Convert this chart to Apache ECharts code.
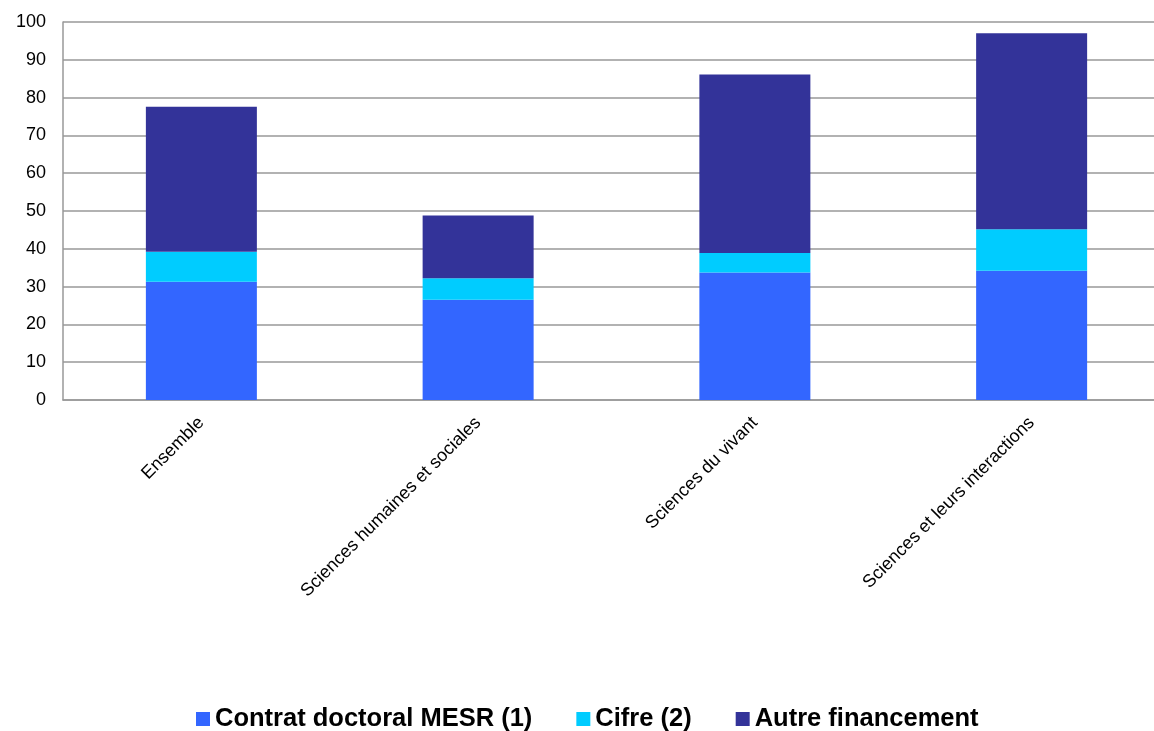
<!DOCTYPE html>
<html>
<head>
<meta charset="utf-8">
<script src="https://cdn.jsdelivr.net/npm/echarts@6/dist/echarts.min.js"></script>
<style>
html,body{margin:0;padding:0;background:#fff;overflow:hidden;width:1154px;height:731px;}
#chart{width:1170px;height:731px;}
</style>
</head>
<body>
<div id="chart"></div>
<script>
const categories = ["Ensemble", "Sciences humaines et sociales", "Sciences du vivant", "Sciences et leurs interactions"];
const contratMESR = [31.3, 26.5, 33.7, 34.2];
const cifre = [7.9, 5.7, 5.2, 11.0];
const autre = [38.4, 16.6, 47.2, 51.8];
const seriesNames = ["Contrat doctoral MESR (1)", "Cifre (2)", "Autre financement"];
const yTicks = { min: 0, max: 100, interval: 10 };

const chart = echarts.init(document.getElementById('chart'));
const colors = ['#3366FF', '#00CCFF', '#333399'];
const mk = (name, data, color) => ({
  name, type: 'bar', stack: 'total', data,
  barWidth: 111,
  itemStyle: { color },
  emphasis: { disabled: true }
});
chart.setOption({
  animation: false,
  textStyle: { fontFamily: '"Liberation Sans", Arial, sans-serif' },
  grid: { left: 63, right: 0, top: 22, bottom: 331, containLabel: false },
  legend: {
    top: 701,
    left: 191,
    itemWidth: 14,
    itemHeight: 14,
    itemGap: 44,
    icon: 'rect',
    textStyle: { fontSize: 25.5, fontWeight: 'bold', color: '#000', fontFamily: '"Liberation Sans", Arial, sans-serif' },
    data: seriesNames
  },
  xAxis: {
    type: 'category',
    data: categories,
    axisLine: { lineStyle: { color: '#999', width: 1.5 } },
    axisTick: { show: false },
    axisLabel: { rotate: 45, margin: 20, fontSize: 18, color: '#000', interval: 0 }
  },
  yAxis: {
    type: 'value',
    min: yTicks.min, max: yTicks.max, interval: yTicks.interval,
    axisLine: { show: true, lineStyle: { color: '#999', width: 1.5 } },
    axisTick: { show: false },
    splitLine: { lineStyle: { color: '#999', width: 1.5 } },
    axisLabel: { fontSize: 18, color: '#000', margin: 17 }
  },
  series: [
    mk(seriesNames[0], contratMESR, colors[0]),
    mk(seriesNames[1], cifre, colors[1]),
    mk(seriesNames[2], autre, colors[2])
  ]
});
</script>
</body>
</html>
